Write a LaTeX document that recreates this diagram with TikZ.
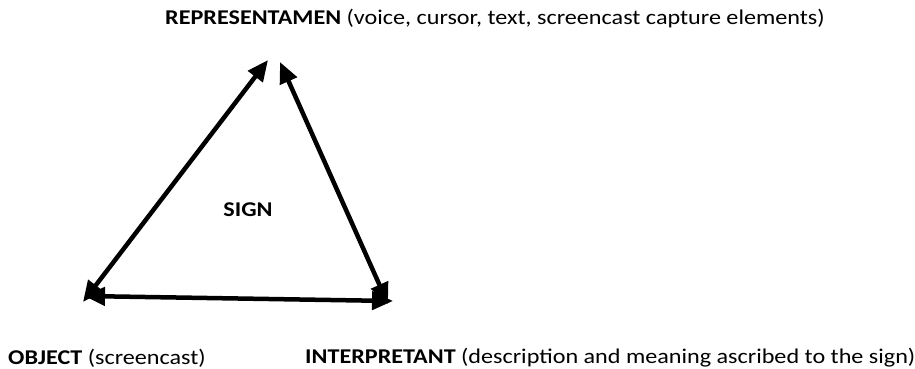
\documentclass[tikz,border=0pt]{standalone}
\usepackage{fontspec}
\setmainfont{Carlito}[FakeStretch=1.15]
\usetikzlibrary{arrows.meta}
\begin{document}
\begin{tikzpicture}[x=1pt,y=-1pt,
  lbl/.style={inner sep=0pt,font=\fontsize{21}{24}\selectfont},
  conn/.style={line width=4.5pt,{Triangle[length=21pt,width=18pt]}-{Triangle[length=21pt,width=18pt]}}]
\useasboundingbox (0,0) rectangle (915,368);
\node[lbl,anchor=west] (rep) at (165,19) {\textbf{REPRESENTAMEN} (voice, cursor, text, screencast capture elements)};
\node[lbl] (sign) at (248,210) {\textbf{SIGN}};
\node[lbl,anchor=west] (obj) at (8,358) {\textbf{OBJECT} (screencast)};
\node[lbl,anchor=west] (int) at (305,358) {\textbf{INTERPRETANT} (description and meaning ascribed to the sign)};
\coordinate (a1) at (83,302);
\coordinate (a2) at (268,60);
\coordinate (b1) at (280,62);
\coordinate (b2) at (388,304);
\coordinate (c1) at (84,296);
\coordinate (c2) at (393,301);
\draw[conn] (a1) -- (a2);
\draw[conn] (b1) -- (b2);
\draw[conn] (c1) -- (c2);
\end{tikzpicture}
\end{document}
